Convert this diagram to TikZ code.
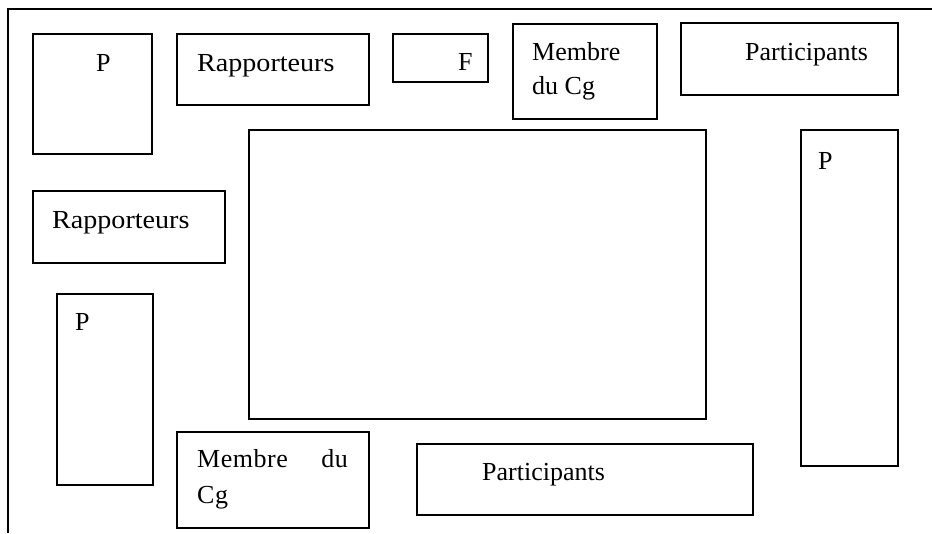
\documentclass[tikz,border=0pt]{standalone}
\usepackage{fontspec}
\setmainfont{Liberation Serif}
\begin{document}
\begin{tikzpicture}[x=1pt,y=-1pt,
  box/.style={draw=black,line width=1.6pt,rectangle,inner sep=0pt,anchor=north west},
  lbl/.style={inner sep=0pt,anchor=base west,font=\fontsize{26}{30}\selectfont},
  wide/.style={font=\fontsize{26}{30}\selectfont\addfontfeature{FakeStretch=1.08}},
  semiwide/.style={font=\fontsize{26}{30}\selectfont\addfontfeature{LetterSpace=2}}]
\useasboundingbox (0,0) rectangle (932,533);
\draw[line width=1.6pt] (932,9) -- (8,9) -- (8,533);
% boxes
\node[box,minimum width=119pt,minimum height=120pt] (pTL) at (32,33) {};
\node[box,minimum width=192pt,minimum height=71pt] (rapT) at (176,33) {};
\node[box,minimum width=95pt,minimum height=48pt] (fT) at (392,33) {};
\node[box,minimum width=144pt,minimum height=95pt] (memT) at (512,23) {};
\node[box,minimum width=217pt,minimum height=72pt] (parT) at (680,22) {};
\node[box,minimum width=457pt,minimum height=289pt] (center) at (248,129) {};
\node[box,minimum width=97pt,minimum height=336pt] (pR) at (800,129) {};
\node[box,minimum width=192pt,minimum height=72pt] (rapL) at (32,190) {};
\node[box,minimum width=96pt,minimum height=191pt] (pL) at (56,293) {};
\node[box,minimum width=192pt,minimum height=96pt] (memB) at (176,431) {};
\node[box,minimum width=336pt,minimum height=71pt] (parB) at (416,443) {};
% labels
\node[lbl] (tpTL) at (96,71) {P};
\node[lbl,wide] (trapT) at (197,71) {Rapporteurs};
\node[lbl] (tfT) at (458,70) {F};
\node[lbl] (tmemT1) at (532,60) {Membre};
\node[lbl] (tmemT2) at (532,94) {du Cg};
\node[lbl] (tparT) at (745,60) {Participants};
\node[lbl] (tpR) at (818,169) {P};
\node[lbl,wide] (trapL) at (52,228) {Rapporteurs};
\node[lbl] (tpL) at (75,330) {P};
\node[lbl,semiwide] (tmemB1) at (197,467) {Membre};
\node[lbl,semiwide,anchor=base east] (tmemB2) at (348,467) {du};
\node[lbl,semiwide] (tmemB3) at (197,503) {Cg};
\node[lbl] (tparB) at (482,480) {Participants};
\end{tikzpicture}
\end{document}
